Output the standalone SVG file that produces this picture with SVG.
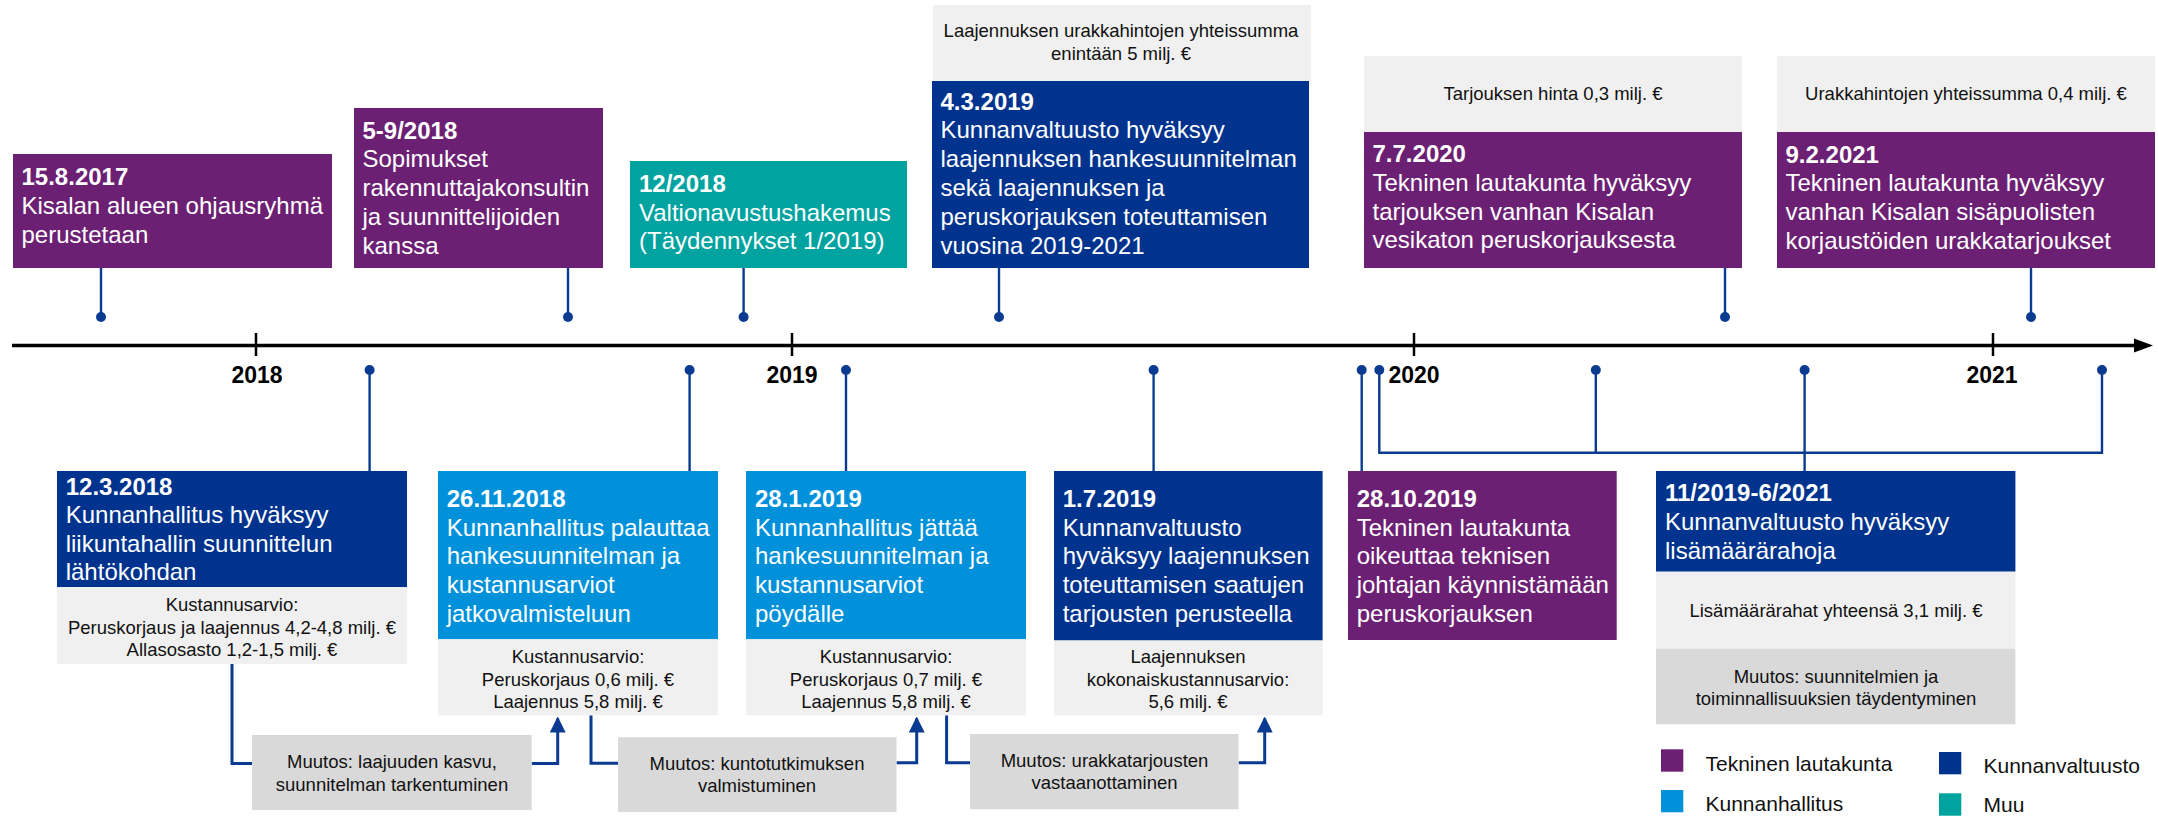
<svg xmlns="http://www.w3.org/2000/svg" width="2158" height="816" viewBox="0 0 2158 816">
<style>
text{font-family:"Liberation Sans",Arial,sans-serif}
.w{fill:#fff;font-size:24px}
.d{font-weight:bold}
.g{fill:#111;font-size:18.5px;text-anchor:middle}
.yr{fill:#000;font-size:23px;font-weight:bold;text-anchor:middle}
.lg{fill:#111;font-size:21px}
.pu{fill:#6C2074}
.db{fill:#00338E}
.lb{fill:#0091DA}
.te{fill:#00A3A0}
.lgr{fill:#F0F0F0}
.dgr{fill:#D9D9D9}
.st{stroke:#0B3B91;stroke-width:2.4;fill:none}
.cn{stroke:#0B3B91;stroke-width:3;fill:none}
.dot{fill:#0B3B91}
</style>
<defs>
<marker id="ah" markerUnits="userSpaceOnUse" markerWidth="16" markerHeight="16" viewBox="0 0 16 16" refX="14" refY="8" orient="auto">
<path d="M0,0 L16,8 L0,16 Z" fill="#0B3B91"/>
</marker>
</defs>
<rect width="2158" height="816" fill="#fff"/>

<g id="axis">
<line x1="12" y1="345.5" x2="2136" y2="345.5" stroke="#000" stroke-width="3.5"/>
<polygon points="2134,338.5 2153,345.5 2134,352.5" fill="#000"/>
<line x1="256" y1="333" x2="256" y2="356" stroke="#000" stroke-width="2.5"/>
<line x1="792" y1="333" x2="792" y2="356" stroke="#000" stroke-width="2.5"/>
<line x1="1414" y1="333" x2="1414" y2="356" stroke="#000" stroke-width="2.5"/>
<line x1="1993" y1="333" x2="1993" y2="356" stroke="#000" stroke-width="2.5"/>
<text class="yr" x="257" y="383">2018</text>
<text class="yr" x="792" y="383">2019</text>
<text class="yr" x="1414" y="383">2020</text>
<text class="yr" x="1992" y="383">2021</text>
</g>

<g id="connectors">
<line class="st" x1="101" y1="268" x2="101" y2="317"/>
<circle class="dot" cx="101" cy="317" r="5"/>
<line class="st" x1="568" y1="268" x2="568" y2="317"/>
<circle class="dot" cx="568" cy="317" r="5"/>
<line class="st" x1="743.6" y1="268" x2="743.6" y2="317"/>
<circle class="dot" cx="743.6" cy="317" r="5"/>
<line class="st" x1="999" y1="268" x2="999" y2="317"/>
<circle class="dot" cx="999" cy="317" r="5"/>
<line class="st" x1="1725" y1="268" x2="1725" y2="317"/>
<circle class="dot" cx="1725" cy="317" r="5"/>
<line class="st" x1="2031" y1="268" x2="2031" y2="317"/>
<circle class="dot" cx="2031" cy="317" r="5"/>

<line class="st" x1="369.6" y1="370" x2="369.6" y2="471"/>
<circle class="dot" cx="369.6" cy="370" r="5"/>
<line class="st" x1="689.6" y1="370" x2="689.6" y2="471"/>
<circle class="dot" cx="689.6" cy="370" r="5"/>
<line class="st" x1="846" y1="370" x2="846" y2="471"/>
<circle class="dot" cx="846" cy="370" r="5"/>
<line class="st" x1="1153.6" y1="370" x2="1153.6" y2="471"/>
<circle class="dot" cx="1153.6" cy="370" r="5"/>
<line class="st" x1="1361.7" y1="370" x2="1361.7" y2="471"/>
<circle class="dot" cx="1361.7" cy="370" r="5"/>

<path class="st" d="M1379.3,370 V452.7 H2102 V370"/>
<line class="st" x1="1595.8" y1="370" x2="1595.8" y2="452.7"/>
<line class="st" x1="1804.6" y1="370" x2="1804.6" y2="471"/>
<circle class="dot" cx="1379.3" cy="370" r="5"/>
<circle class="dot" cx="1595.8" cy="370" r="5"/>
<circle class="dot" cx="1804.6" cy="370" r="5"/>
<circle class="dot" cx="2102" cy="370" r="5"/>

<path class="cn" d="M232,664 V763.5 H252"/>
<path class="cn" d="M531.7,763.5 H557.7 V718.5" marker-end="url(#ah)"/>
<path class="cn" d="M591,715.3 V763.3 H618"/>
<path class="cn" d="M896.5,762.7 H916.7 V718.5" marker-end="url(#ah)"/>
<path class="cn" d="M946.6,715.3 V762.7 H970"/>
<path class="cn" d="M1238.6,762.7 H1264.7 V718.5" marker-end="url(#ah)"/>
</g>

<g id="n-2017-08-15">
<rect class="pu" x="13" y="154" width="319" height="114"/>
<text class="w"><tspan class="d" x="21.5" y="185">15.8.2017</tspan><tspan x="21.5" y="213.8">Kisalan alueen ohjausryhmä</tspan><tspan x="21.5" y="242.6">perustetaan</tspan></text>
</g>

<g id="n-2018-05-09">
<rect class="pu" x="354" y="108" width="249" height="160"/>
<text class="w"><tspan class="d" x="362.5" y="138.5">5-9/2018</tspan><tspan x="362.5" y="167.3">Sopimukset</tspan><tspan x="362.5" y="196.1">rakennuttajakonsultin</tspan><tspan x="362.5" y="224.9">ja suunnittelijoiden</tspan><tspan x="362.5" y="253.7">kanssa</tspan></text>
</g>

<g id="n-2018-12">
<rect class="te" x="630" y="161" width="277" height="107"/>
<text class="w"><tspan class="d" x="639" y="191.7">12/2018</tspan><tspan x="639" y="220.5">Valtionavustushakemus</tspan><tspan x="639" y="249.3">(Täydennykset 1/2019)</tspan></text>
</g>

<g id="n-2019-03-04">
<rect class="lgr" x="933" y="5" width="378" height="76"/>
<text class="g"><tspan x="1121" y="37.3">Laajennuksen urakkahintojen yhteissumma</tspan><tspan x="1121" y="60">enintään 5 milj. €</tspan></text>
<rect class="db" x="932" y="81" width="377" height="187"/>
<text class="w"><tspan class="d" x="940.5" y="109.5">4.3.2019</tspan><tspan x="940.5" y="138.4">Kunnanvaltuusto hyväksyy</tspan><tspan x="940.5" y="167.3">laajennuksen hankesuunnitelman</tspan><tspan x="940.5" y="196.2">sekä laajennuksen ja</tspan><tspan x="940.5" y="225.1">peruskorjauksen toteuttamisen</tspan><tspan x="940.5" y="254">vuosina 2019-2021</tspan></text>
</g>

<g id="n-2020-07-07">
<rect class="lgr" x="1364" y="56" width="378" height="76"/>
<text class="g" x="1553" y="100">Tarjouksen hinta 0,3 milj. €</text>
<rect class="pu" x="1364" y="132" width="378" height="136"/>
<text class="w"><tspan class="d" x="1372.5" y="161.7">7.7.2020</tspan><tspan x="1372.5" y="190.6">Tekninen lautakunta hyväksyy</tspan><tspan x="1372.5" y="219.5">tarjouksen vanhan Kisalan</tspan><tspan x="1372.5" y="248.4">vesikaton peruskorjauksesta</tspan></text>
</g>

<g id="n-2021-02-09">
<rect class="lgr" x="1777" y="56" width="378" height="76"/>
<text class="g" x="1966" y="100">Urakkahintojen yhteissumma 0,4 milj. €</text>
<rect class="pu" x="1777" y="132" width="378" height="136"/>
<text class="w"><tspan class="d" x="1785.5" y="162.5">9.2.2021</tspan><tspan x="1785.5" y="191.4">Tekninen lautakunta hyväksyy</tspan><tspan x="1785.5" y="220.3">vanhan Kisalan sisäpuolisten</tspan><tspan x="1785.5" y="249.2">korjaustöiden urakkatarjoukset</tspan></text>
</g>

<g id="n-2018-03-12">
<rect class="db" x="57" y="471" width="350" height="116"/>
<text class="w"><tspan class="d" x="65.7" y="495">12.3.2018</tspan><tspan x="65.7" y="523.4">Kunnanhallitus hyväksyy</tspan><tspan x="65.7" y="551.8">liikuntahallin suunnittelun</tspan><tspan x="65.7" y="580.2">lähtökohdan</tspan></text>
<rect class="lgr" x="57" y="587" width="350" height="77"/>
<text class="g"><tspan x="232" y="611">Kustannusarvio:</tspan><tspan x="232" y="633.5">Peruskorjaus ja laajennus 4,2-4,8 milj. €</tspan><tspan x="232" y="656">Allasosasto 1,2-1,5 milj. €</tspan></text>
</g>

<g id="n-2018-11-26">
<rect class="lb" x="438" y="471" width="280" height="168.3"/>
<text class="w"><tspan class="d" x="446.7" y="506.7">26.11.2018</tspan><tspan x="446.7" y="535.5">Kunnanhallitus palauttaa</tspan><tspan x="446.7" y="564.3">hankesuunnitelman ja</tspan><tspan x="446.7" y="593.1">kustannusarviot</tspan><tspan x="446.7" y="621.9">jatkovalmisteluun</tspan></text>
<rect class="lgr" x="438" y="639.3" width="280" height="76"/>
<text class="g"><tspan x="578" y="663.3">Kustannusarvio:</tspan><tspan x="578" y="685.7">Peruskorjaus 0,6 milj. €</tspan><tspan x="578" y="707.5">Laajennus 5,8 milj. €</tspan></text>
</g>

<g id="n-2019-01-28">
<rect class="lb" x="746" y="471" width="280" height="168.3"/>
<text class="w"><tspan class="d" x="755" y="506.7">28.1.2019</tspan><tspan x="755" y="535.5">Kunnanhallitus jättää</tspan><tspan x="755" y="564.3">hankesuunnitelman ja</tspan><tspan x="755" y="593.1">kustannusarviot</tspan><tspan x="755" y="621.9">pöydälle</tspan></text>
<rect class="lgr" x="746" y="639.3" width="280" height="76"/>
<text class="g"><tspan x="886" y="663.3">Kustannusarvio:</tspan><tspan x="886" y="685.7">Peruskorjaus 0,7 milj. €</tspan><tspan x="886" y="707.5">Laajennus 5,8 milj. €</tspan></text>
</g>

<g id="n-2019-07-01">
<rect class="db" x="1054" y="471" width="268.6" height="169.5"/>
<text class="w"><tspan class="d" x="1062.7" y="506.7">1.7.2019</tspan><tspan x="1062.7" y="535.5">Kunnanvaltuusto</tspan><tspan x="1062.7" y="564.3">hyväksyy laajennuksen</tspan><tspan x="1062.7" y="593.1">toteuttamisen saatujen</tspan><tspan x="1062.7" y="621.9">tarjousten perusteella</tspan></text>
<rect class="lgr" x="1054" y="640.5" width="268.6" height="74.8"/>
<text class="g"><tspan x="1188" y="663.3">Laajennuksen</tspan><tspan x="1188" y="685.7">kokonaiskustannusarvio:</tspan><tspan x="1188" y="707.5">5,6 milj. €</tspan></text>
</g>

<g id="n-2019-10-28">
<rect class="pu" x="1348" y="471" width="268.7" height="169"/>
<text class="w"><tspan class="d" x="1356.7" y="506.7">28.10.2019</tspan><tspan x="1356.7" y="535.5">Tekninen lautakunta</tspan><tspan x="1356.7" y="564.3">oikeuttaa teknisen</tspan><tspan x="1356.7" y="593.1">johtajan käynnistämään</tspan><tspan x="1356.7" y="621.9">peruskorjauksen</tspan></text>
</g>

<g id="n-2019-11-2021-06">
<rect class="db" x="1656" y="471" width="359.4" height="100.7"/>
<text class="w"><tspan class="d" x="1665" y="501">11/2019-6/2021</tspan><tspan x="1665" y="529.8">Kunnanvaltuusto hyväksyy</tspan><tspan x="1665" y="558.6">lisämäärärahoja</tspan></text>
<rect class="lgr" x="1656" y="571.7" width="359.4" height="77"/>
<text class="g" x="1836" y="616.7">Lisämäärärahat yhteensä 3,1 milj. €</text>
<rect class="dgr" x="1656" y="648.7" width="359.4" height="75.6"/>
<text class="g"><tspan x="1836" y="683.3">Muutos: suunnitelmien ja</tspan><tspan x="1836" y="704.5">toiminnallisuuksien täydentyminen</tspan></text>
</g>

<g id="m-1">
<rect class="dgr" x="252" y="735" width="279.7" height="75"/>
<text class="g"><tspan x="392" y="768.3">Muutos: laajuuden kasvu,</tspan><tspan x="392" y="790.5">suunnitelman tarkentuminen</tspan></text>
</g>
<g id="m-2">
<rect class="dgr" x="618" y="737.3" width="278.5" height="74.7"/>
<text class="g"><tspan x="757" y="770">Muutos: kuntotutkimuksen</tspan><tspan x="757" y="792">valmistuminen</tspan></text>
</g>
<g id="m-3">
<rect class="dgr" x="970" y="734" width="268.6" height="75.3"/>
<text class="g"><tspan x="1104.5" y="766.7">Muutos: urakkatarjousten</tspan><tspan x="1104.5" y="789.3">vastaanottaminen</tspan></text>
</g>

<g id="legend">
<rect class="pu" x="1661" y="749.3" width="22.3" height="22.4"/>
<text class="lg" x="1705.5" y="770.7">Tekninen lautakunta</text>
<rect class="lb" x="1661" y="790" width="22.3" height="22.3"/>
<text class="lg" x="1705.5" y="810.7">Kunnanhallitus</text>
<rect class="db" x="1939" y="752" width="22.3" height="22.3"/>
<text class="lg" x="1983.5" y="773">Kunnanvaltuusto</text>
<rect class="te" x="1939" y="793.3" width="22.3" height="22.4"/>
<text class="lg" x="1983.5" y="811.7">Muu</text>
</g>
</svg>
